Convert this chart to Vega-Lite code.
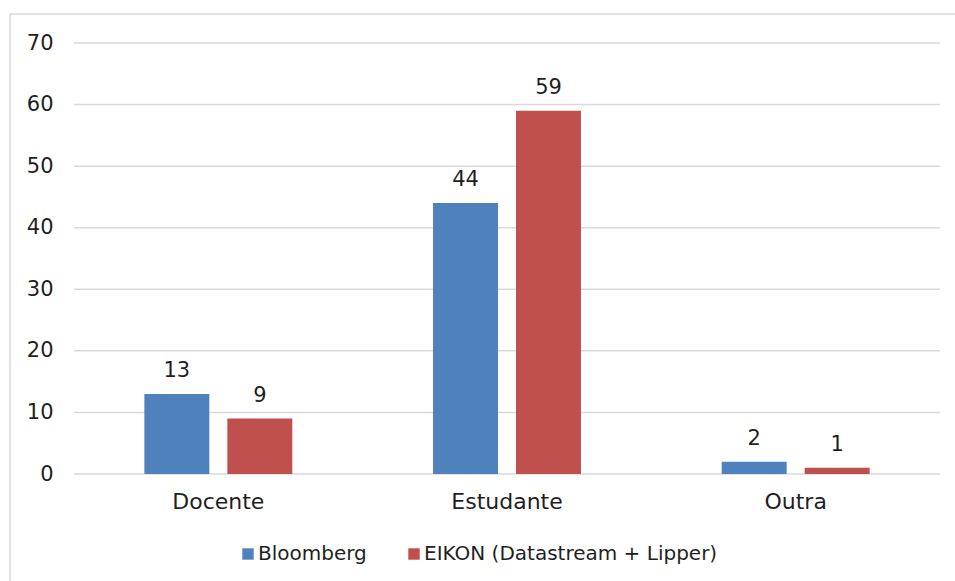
{
  "$schema": "https://vega.github.io/schema/vega-lite/v6.json",
  "autosize": {"type": "none"},
  "width": 960,
  "height": 580,
  "padding": {"left": 10, "top": 14, "right": 0, "bottom": 0},
  "background": "white",
  "config": {
    "font": "DejaVu Sans",
    "view": {"stroke": "#d9d9d9", "strokeWidth": 1.5},
    "axis": {"labelFont": "DejaVu Sans", "labelFontSize": 21, "labelColor": "#1f1f1f", "domain": false, "ticks": false, "grid": false, "tickSize": 0},
    "legend": {"labelFont": "DejaVu Sans", "labelFontSize": 20, "labelColor": "#1f1f1f", "labelLimit": 400}
  },
  "data": {
    "values": [
      {"cat": "Docente", "series": "Bloomberg", "value": 13},
      {"cat": "Docente", "series": "EIKON (Datastream + Lipper)", "value": 9},
      {"cat": "Estudante", "series": "Bloomberg", "value": 44},
      {"cat": "Estudante", "series": "EIKON (Datastream + Lipper)", "value": 59},
      {"cat": "Outra", "series": "Bloomberg", "value": 2},
      {"cat": "Outra", "series": "EIKON (Datastream + Lipper)", "value": 1}
    ]
  },
  "layer": [
    {
      "data": {"values": [{"g": 0}, {"g": 10}, {"g": 20}, {"g": 30}, {"g": 40}, {"g": 50}, {"g": 60}, {"g": 70}]},
      "mark": {"type": "rule", "color": "#d9d9d9", "strokeWidth": 1.5},
      "encoding": {
        "y": {"field": "g", "type": "quantitative", "axis": {"title": null, "values": [0, 10, 20, 30, 40, 50, 60, 70], "offset": -43, "labelPadding": 0}},
        "x": {"datum": "Docente", "type": "nominal", "bandPosition": 0, "axis": {"title": null, "labelAngle": 0, "offset": -120, "labelPadding": 17}},
        "x2": {"datum": "Outra", "bandPosition": 1}
      }
    },
    {
      "mark": {"type": "bar"},
      "encoding": {
        "x": {
          "field": "cat", "type": "nominal", "sort": ["Docente", "Estudante", "Outra"],
          "scale": {"domain": ["Docente", "Estudante", "Outra"], "range": [64, 930], "paddingInner": 0, "paddingOuter": 0},
          "axis": {"title": null, "labelAngle": 0, "offset": -120, "labelPadding": 17, "labelFontSize": 22}
        },
        "xOffset": {
          "field": "series", "type": "nominal",
          "scale": {"domain": ["Bloomberg", "EIKON (Datastream + Lipper)"], "paddingInner": 0.217, "paddingOuter": 0.848}
        },
        "y": {
          "field": "value", "type": "quantitative",
          "scale": {"domain": [0, 70], "range": [460, 29], "nice": false, "zero": true},
          "axis": {"title": null, "values": [0, 10, 20, 30, 40, 50, 60, 70], "offset": -43, "labelPadding": 0}
        },
        "color": {
          "field": "series", "type": "nominal",
          "scale": {"domain": ["Bloomberg", "EIKON (Datastream + Lipper)"], "range": ["#4F81BD", "#C0504D"]},
          "legend": {
            "title": null, "orient": "none", "direction": "horizontal",
            "legendX": 228, "legendY": 530, "padding": 0,
            "symbolType": "square", "symbolSize": 130, "symbolStrokeWidth": 0,
            "labelOffset": 0, "columnPadding": 37, "labelLimit": 400
          }
        }
      }
    },
    {
      "mark": {"type": "text", "baseline": "alphabetic", "dy": -17, "fontSize": 21, "color": "#1f1f1f", "font": "DejaVu Sans"},
      "encoding": {
        "x": {"field": "cat", "type": "nominal"},
        "xOffset": {"field": "series", "type": "nominal"},
        "y": {"field": "value", "type": "quantitative"},
        "text": {"field": "value", "type": "quantitative"}
      }
    }
  ]
}
